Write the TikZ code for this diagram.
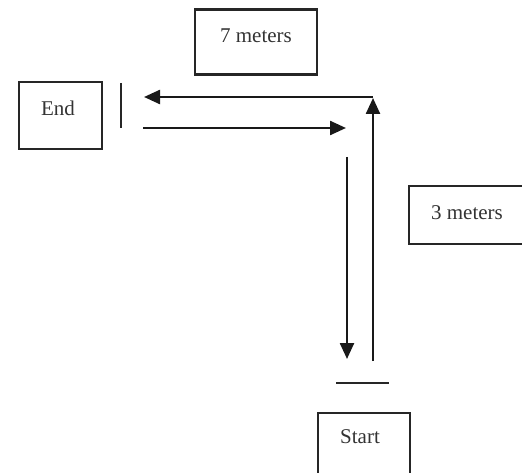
\documentclass[tikz,border=0pt]{standalone}
\usepackage{fontspec}
\setmainfont{Liberation Serif}
\usetikzlibrary{arrows.meta}
\begin{document}
\begin{tikzpicture}[x=1pt,y=-1pt,
  box/.style={draw=black!85, line width=2.2pt, inner sep=0pt},
  lbl/.style={font=\fontsize{21}{24}\selectfont, text=black!80, inner sep=0pt},
  track/.style={draw=black!90, line width=2.4pt},
  walk/.style={track, -{Triangle[length=16pt,width=14pt]}},
  bar/.style={draw=black!85, line width=2.2pt}]
  \useasboundingbox (0,0) rectangle (522,473);
  \clip (0,0) rectangle (522,473);

  % labelled boxes
  \node[box, minimum width=122pt, minimum height=65pt] (sevenbox) at (256,42) {};
  \node[lbl] (seven) at (256,36) {7 meters};
  \node[box, minimum width=83pt, minimum height=67pt] (endbox) at (60.5,115.5) {};
  \node[lbl] (endtxt) at (58,108) {End};
  \node[box, minimum width=130pt, minimum height=58pt, anchor=north west] (threebox) at (408,185) {};
  \node[lbl] (three) at (467,213) {3 meters};
  \node[box, minimum width=92pt, minimum height=80pt, anchor=north west] (startbox) at (317,412) {};
  \node[lbl] (starttxt) at (360,437) {Start};

  % path points
  \coordinate (upfoot) at (373,361);
  \coordinate (corner) at (373,97);
  \coordinate (uptip) at (373,98);
  \coordinate (lefttip) at (144,97);
  \coordinate (rightfoot) at (143,128);
  \coordinate (righttip) at (346,128);
  \coordinate (downfoot) at (347,157);
  \coordinate (downtip) at (347,359);

  % walking out and back
  \draw[walk] (upfoot) -- (uptip);
  \draw[walk] (corner) -- (lefttip);
  \draw[walk] (rightfoot) -- (righttip);
  \draw[walk] (downfoot) -- (downtip);

  % end and start marks
  \coordinate (endbar1) at (121,83);
  \coordinate (endbar2) at (121,128);
  \coordinate (startbar1) at (336,383);
  \coordinate (startbar2) at (389,383);
  \draw[bar] (endbar1) -- (endbar2);
  \draw[bar] (startbar1) -- (startbar2);
\end{tikzpicture}
\end{document}
